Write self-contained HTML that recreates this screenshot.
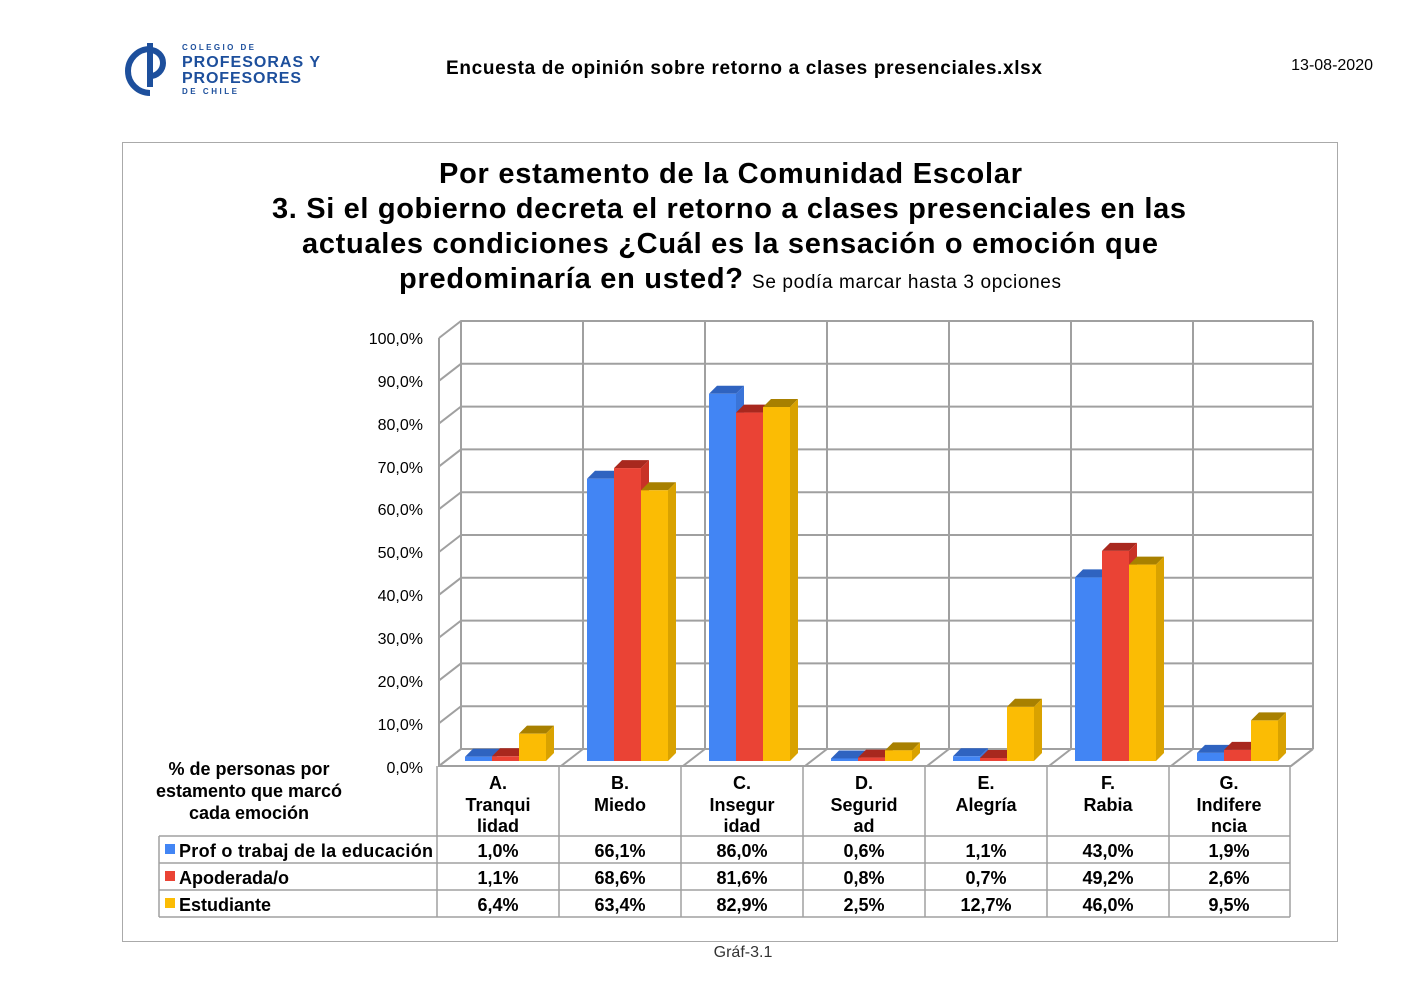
<!DOCTYPE html>
<html><head><meta charset="utf-8"><style>
body{margin:0;background:#fff;width:1421px;height:1001px;overflow:hidden;font-family:"Liberation Sans",Arial,sans-serif}
</style></head><body>
<svg id="s" width="1421" height="1001" xmlns="http://www.w3.org/2000/svg" font-family="Liberation Sans, Arial, sans-serif">
<path d="M150 49 A22 22 0 1 0 150 93" fill="none" stroke="#1d4f9c" stroke-width="6"/>
<path d="M150 50 A13 13 0 0 1 150 76" fill="none" stroke="#1d4f9c" stroke-width="6"/>
<rect x="147" y="43" width="6" height="44" fill="#1d4f9c"/>
<text x="182" y="50" font-size="8" font-weight="bold" fill="#1d4f9c" textLength="72">COLEGIO DE</text>
<text x="182" y="67" font-size="16" font-weight="bold" fill="#1d4f9c" textLength="138">PROFESORAS Y</text>
<text x="182" y="83" font-size="16" font-weight="bold" fill="#1d4f9c" textLength="119">PROFESORES</text>
<text x="182" y="94" font-size="8" font-weight="bold" fill="#1d4f9c" textLength="55">DE CHILE</text>
<text x="446" y="74" font-size="19" font-weight="bold" textLength="596">Encuesta de opinión sobre retorno a clases presenciales.xlsx</text>
<text x="1373" y="70" font-size="16" text-anchor="end">13-08-2020</text>
<rect x="122.5" y="142.5" width="1215" height="799" fill="none" stroke="#aaa"/>
<g font-size="29" font-weight="bold">
<text x="439" y="183" textLength="583">Por estamento de la Comunidad Escolar</text>
<text x="272" y="218" textLength="914">3. Si el gobierno decreta el retorno a clases presenciales en las</text>
<text x="302" y="253" textLength="856">actuales condiciones ¿Cuál es la sensación o emoción que</text>
<text x="399" y="288" textLength="344">predominaría en usted?</text>
<text x="752" y="288" font-size="19" font-weight="normal" textLength="309">Se podía marcar hasta 3 opciones</text>
</g>
<g id="grid" stroke="#a0a0a0" stroke-width="2" fill="none"></g>
<g id="bars"></g>
<g font-size="16" text-anchor="end">
<text x="423" y="344">100,0%</text><text x="423" y="387">90,0%</text><text x="423" y="430">80,0%</text>
<text x="423" y="473">70,0%</text><text x="423" y="515">60,0%</text><text x="423" y="558">50,0%</text>
<text x="423" y="601">40,0%</text><text x="423" y="644">30,0%</text><text x="423" y="687">20,0%</text>
<text x="423" y="730">10,0%</text><text x="423" y="773">0,0%</text>
</g>
<g font-size="18" font-weight="bold" text-anchor="middle">
<text x="249" y="775">% de personas por</text>
<text x="249" y="797">estamento que marcó</text>
<text x="249" y="819">cada emoción</text>
</g>
<g stroke="#a0a0a0" stroke-width="1.5" fill="none">
<path d="M437 766V917M559 766V917M681 766V917M803 766V917M925 766V917M1047 766V917M1169 766V917M1290 766V917"/>
<path d="M159 836H1290M159 863H1290M159 890H1290M159 917H1290M159 836V917"/>
</g>
<g font-size="18" font-weight="bold" text-anchor="middle">
<text x="498" y="789">A.</text><text x="498" y="811">Tranqui</text><text x="498" y="832">lidad</text>
<text x="620" y="789">B.</text><text x="620" y="811">Miedo</text>
<text x="742" y="789">C.</text><text x="742" y="811">Insegur</text><text x="742" y="832">idad</text>
<text x="864" y="789">D.</text><text x="864" y="811">Segurid</text><text x="864" y="832">ad</text>
<text x="986" y="789">E.</text><text x="986" y="811">Alegría</text>
<text x="1108" y="789">F.</text><text x="1108" y="811">Rabia</text>
<text x="1229" y="789">G.</text><text x="1229" y="811">Indifere</text><text x="1229" y="832">ncia</text>
<text x="498" y="857">1,0%</text><text x="620" y="857">66,1%</text><text x="742" y="857">86,0%</text><text x="864" y="857">0,6%</text><text x="986" y="857">1,1%</text><text x="1108" y="857">43,0%</text><text x="1229" y="857">1,9%</text>
<text x="498" y="884">1,1%</text><text x="620" y="884">68,6%</text><text x="742" y="884">81,6%</text><text x="864" y="884">0,8%</text><text x="986" y="884">0,7%</text><text x="1108" y="884">49,2%</text><text x="1229" y="884">2,6%</text>
<text x="498" y="911">6,4%</text><text x="620" y="911">63,4%</text><text x="742" y="911">82,9%</text><text x="864" y="911">2,5%</text><text x="986" y="911">12,7%</text><text x="1108" y="911">46,0%</text><text x="1229" y="911">9,5%</text>
</g>
<g font-size="18" font-weight="bold">
<rect x="165" y="844" width="10" height="10" fill="#4285f4"/><text x="179" y="857" textLength="254">Prof o trabaj de la educación</text>
<rect x="165" y="871" width="10" height="10" fill="#ea4335"/><text x="179" y="884">Apoderada/o</text>
<rect x="165" y="898" width="10" height="10" fill="#fbbc04"/><text x="179" y="911">Estudiante</text>
</g>
<text x="743" y="957" font-size="16" text-anchor="middle" fill="#333">Gráf-3.1</text>
</svg>
<script>
var g=document.getElementById('grid'),b=document.getElementById('bars'),h='';
for(var i=0;i<=10;i++){var y=749-i*42.8;h+='<path d="M439 '+(y+17)+'L461 '+y+'L1313 '+y+'"/>';}
var xs=[461,583,705,827,949,1071,1193,1313];
xs.forEach(function(x){h+='<path d="M'+x+' 321V749"/>';});
h+='<path d="M439 338V766H1291L1313 749"/>';
xs.forEach(function(x){h+='<path d="M'+x+' 749L'+(x-22)+' 766"/>';});
g.innerHTML=h;
var d=[[1.0,66.1,86.0,0.6,1.1,43.0,1.9],[1.1,68.6,81.6,0.8,0.7,49.2,2.6],[6.4,63.4,82.9,2.5,12.7,46.0,9.5]];
var col=[['#4285f4','#2f63c0','#3a74d8'],['#ea4335','#a8281e','#c93226'],['#fbbc04','#a88000','#d9a200']];
var s='',bot=761,k=4.27,w=27,dx=8,dy=8;
for(var c=0;c<7;c++)for(var r=0;r<3;r++){
 var x=437+c*122+28+r*w,hh=d[r][c]*k,t=bot-hh,cl=col[r];
 s+='<polygon points="'+x+','+t+' '+(x+dx)+','+(t-dy)+' '+(x+w+dx)+','+(t-dy)+' '+(x+w)+','+t+'" fill="'+cl[1]+'"/>';
 s+='<polygon points="'+(x+w)+','+t+' '+(x+w+dx)+','+(t-dy)+' '+(x+w+dx)+','+(bot-dy)+' '+(x+w)+','+bot+'" fill="'+cl[2]+'"/>';
 s+='<rect x="'+x+'" y="'+t+'" width="'+w+'" height="'+hh+'" fill="'+cl[0]+'"/>';
}
b.innerHTML=s;
</script>
</body></html>
